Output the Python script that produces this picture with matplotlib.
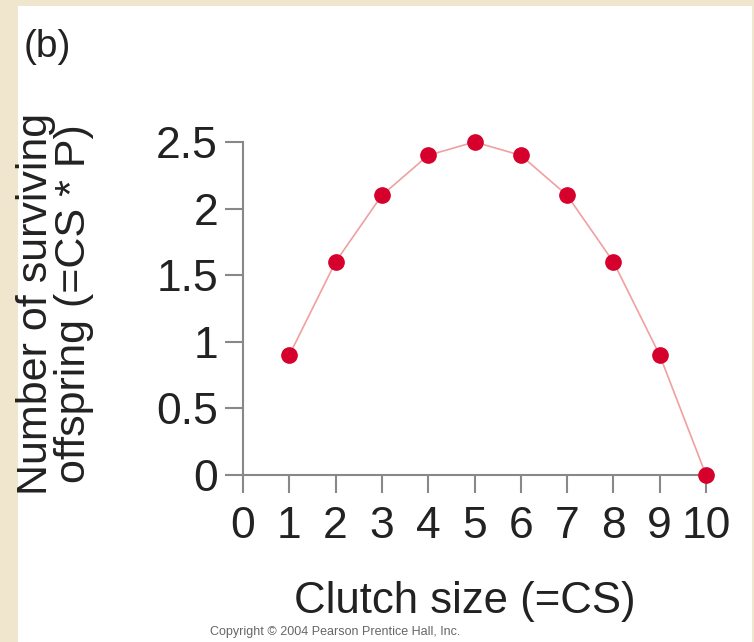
import matplotlib.pyplot as plt
from matplotlib.patches import Rectangle

clutch_size = [1, 2, 3, 4, 5, 6, 7, 8, 9, 10]
surviving = [0.9, 1.6, 2.1, 2.4, 2.5, 2.4, 2.1, 1.6, 0.9, 0.0]
x_ticks = [0, 1, 2, 3, 4, 5, 6, 7, 8, 9, 10]
x_labels = ['0', '1', '2', '3', '4', '5', '6', '7', '8', '9', '10']
y_ticks = [0, 0.5, 1, 1.5, 2, 2.5]
y_labels = ['0', '0.5', '1', '1.5', '2', '2.5']

plt.rcParams['font.family'] = ['Liberation Sans', 'DejaVu Sans']

W, H = 754, 642
fig = plt.figure(figsize=(W / 100, H / 100), dpi=100)
fig.patch.set_facecolor('#efe6cd')
# white panel
fig.add_artist(Rectangle((18 / W, 0), (752 - 18) / W, (H - 6) / H,
                         transform=fig.transFigure, facecolor='white',
                         edgecolor='none', zorder=0))

# axes: x from 0 (243px) to 10 (706px), y from 0 (475px) to 2.5 (142px)
x0, x1 = 243, 706
y0, y1 = 475, 142
ax = fig.add_axes([x0 / W, 1 - y0 / H, (x1 - x0) / W, (y0 - y1) / H])
ax.set_facecolor('none')

ax.plot(clutch_size, surviving, color='#f0a0a0', lw=1.2, zorder=2, clip_on=False)
ax.plot(clutch_size, surviving, 'o', color='#d6002c', ms=11, zorder=3, clip_on=False)

ax.set_xlim(0, 10)
ax.set_ylim(0, 2.5)
ax.set_xticks(x_ticks)
ax.set_xticklabels(x_labels)
ax.set_yticks(y_ticks)
ax.set_yticklabels(y_labels)

for s in ['top', 'right']:
    ax.spines[s].set_visible(False)
for s in ['left', 'bottom']:
    ax.spines[s].set_color('#888888')
    ax.spines[s].set_linewidth(1.5)
ax.tick_params(axis='both', colors='#888888', width=1.5, length=13,
               labelsize=32, labelcolor='#222222', pad=5)
ax.tick_params(axis='x', pad=9)

ax.set_xlabel('Clutch size (=CS)', fontsize=31.5, color='#222222')
ax.xaxis.set_label_coords((465 - x0) / (x1 - x0), (y0 - 601) / (y0 - y1))
ax.xaxis.label.set_va('center')

ax.set_ylabel('Number of surviving\noffspring (=CS * P)', fontsize=31,
              color='#222222', linespacing=0.95)
ax.yaxis.set_label_coords((55 - x0) / (x1 - x0), (y0 - 304) / (y0 - y1))
ax.yaxis.label.set_va('center')

fig.text(24 / W, 1 - 47 / H, '(b)', fontsize=28, color='#222222', va='center')
fig.text(210 / W, 1 - 632 / H, 'Copyright \u00a9 2004 Pearson Prentice Hall, Inc.',
         fontsize=9, color='#666666', va='center')

fig.savefig('out.png', dpi=100, facecolor=fig.get_facecolor())
